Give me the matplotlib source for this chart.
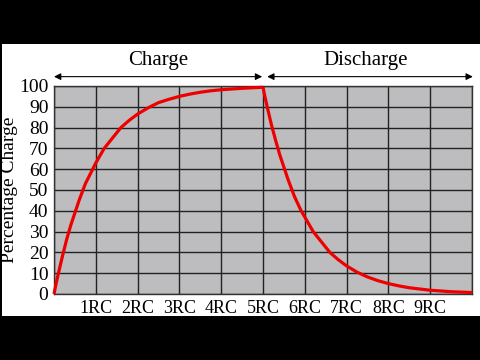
import matplotlib
matplotlib.use('Agg')
import matplotlib.pyplot as plt
from matplotlib.patches import Rectangle

# values (time in RC, percent charge)
t_charge = [0, 0.05, 0.1, 0.2, 0.3, 0.4, 0.5, 0.6, 0.75, 0.9, 1.0, 1.2, 1.4, 1.6,
            1.8, 2.0, 2.25, 2.5, 2.75, 3.0, 3.25, 3.5, 3.75, 4.0, 4.5, 5.0]
q_charge = [0, 5, 9.5, 18, 26, 33, 39, 45, 53, 59, 63, 70, 75, 80,
            83.5, 86.5, 89.5, 92, 93.6, 95, 96.1, 97, 97.7, 98.2, 98.9, 99.4]
t_dis = [5.0, 5.05, 5.1, 5.2, 5.3, 5.4, 5.5, 5.6, 5.75, 5.9, 6.0, 6.2, 6.4, 6.6,
         6.8, 7.0, 7.25, 7.5, 7.75, 8.0, 8.25, 8.5, 9.0, 9.5, 10.0]
q_dis = [99.4, 94.5, 90, 81.5, 74, 67, 61, 55, 47, 40.5, 37, 30, 25, 20,
         16.5, 13.5, 10.5, 8.2, 6.4, 5.0, 3.9, 3.0, 1.8, 1.1, 0.7]
tick_lab = ['1RC', '2RC', '3RC', '4RC', '5RC', '6RC', '7RC', '8RC', '9RC']

plt.rcParams['font.family'] = ['Liberation Serif', 'DejaVu Serif']

fig = plt.figure(figsize=(4.8, 3.6), dpi=100, facecolor='black')
# white band of the frame
fig.patches.append(Rectangle((2/480, 1-316/360), 478/480, 272/360,
                             transform=fig.transFigure, facecolor='white',
                             edgecolor='none', zorder=-10))

ax = fig.add_axes([54/480, 1-294/360, 418/480, 208/360])
ax.set_facecolor('#bdbdbf')
ax.set_xlim(0, 10)
ax.set_ylim(0, 100)
ax.set_xticks(range(0, 11))
ax.set_yticks(range(0, 101, 10))
ax.grid(True, color='#222222', linewidth=1.0)
ax.set_axisbelow(True)
ax.set_xticklabels([''] + tick_lab + [''], fontsize=13)
ax.set_yticklabels([str(v) for v in range(0, 101, 10)], fontsize=14)
ax.tick_params(length=0, pad=4)
ax.tick_params(axis='x', pad=4)
for s in ax.spines.values():
    s.set_color('#333333')
    s.set_linewidth(1.0)

ax.plot(t_charge, q_charge, color='#ee0000', linewidth=2.3, clip_on=False,
        solid_capstyle='butt', solid_joinstyle='round', zorder=3)
ax.plot(t_dis, q_dis, color='#ee0000', linewidth=2.3, clip_on=False,
        solid_capstyle='butt', solid_joinstyle='round', zorder=3)

ax.set_ylabel('Percentage Charge', fontsize=14)
ax.yaxis.set_label_coords(-0.087, 0.5)

# arrows and section labels
arr = dict(arrowstyle='<|-|>', color='black', linewidth=0.8,
           mutation_scale=10, shrinkA=0, shrinkB=0)
ax.annotate('', xy=(0, 104.5), xytext=(4.98, 104.5), xycoords='data',
            arrowprops=arr, annotation_clip=False)
ax.annotate('', xy=(5.1, 104.5), xytext=(10.02, 104.5), xycoords='data',
            arrowprops=arr, annotation_clip=False)
ax.text(2.5, 112.5, 'Charge', ha='center', va='center', fontsize=15, clip_on=False)
ax.text(7.45, 112.5, 'Discharge', ha='center', va='center', fontsize=15, clip_on=False)

fig.savefig('out.png', dpi=100, facecolor='black')
